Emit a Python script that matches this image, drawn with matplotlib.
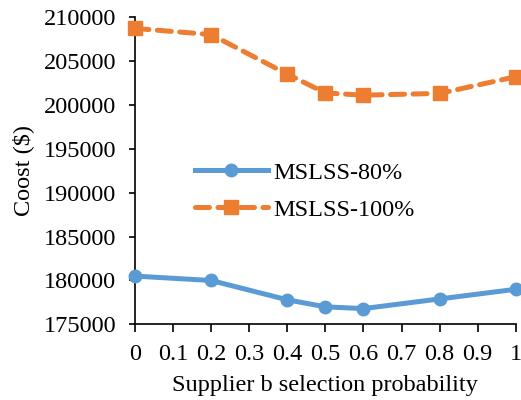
import matplotlib
matplotlib.use("Agg")
import matplotlib.pyplot as plt

x_vals = [0, 0.2, 0.4, 0.5, 0.6, 0.8, 1.0]
mslss_80 = [180500, 180000, 177800, 177000, 176800, 177900, 179000]
mslss_100 = [208700, 208000, 203500, 201350, 201100, 201300, 203200]
x_ticks = [0, 0.1, 0.2, 0.3, 0.4, 0.5, 0.6, 0.7, 0.8, 0.9, 1.0]
x_tick_labels = ["0", "0.1", "0.2", "0.3", "0.4", "0.5", "0.6", "0.7", "0.8", "0.9", "1"]
y_ticks = [175000, 180000, 185000, 190000, 195000, 200000, 205000, 210000]

plt.rcParams['font.family'] = ['Liberation Serif', 'DejaVu Serif']
plt.rcParams['font.size'] = 17.5

fig = plt.figure(figsize=(5.21, 4.0), dpi=100)
ax = fig.add_axes([0.259, 0.189, 0.731, 0.7685])

blue = '#5B9BD5'
orange = '#ED7D31'

ax.plot(x_vals, mslss_80, color=blue, linewidth=3.6, marker='o', markersize=9,
        label='MSLSS-80%', clip_on=False, zorder=3)
ax.plot(x_vals, mslss_100, color=orange, linewidth=3.6, marker='s', markersize=10,
        linestyle=(0, (2.8, 1.7)), dash_capstyle='round',
        label='MSLSS-100%', clip_on=False, zorder=3)

ax.set_xlim(0, 1)
ax.set_ylim(175000, 210000)
ax.set_xticks(x_ticks)
ax.set_xticklabels(x_tick_labels)
ax.set_yticks(y_ticks)
ax.set_yticklabels([str(v) for v in y_ticks])

for s in ['top', 'right']:
    ax.spines[s].set_visible(False)
for s in ['left', 'bottom']:
    ax.spines[s].set_linewidth(1.2)
ax.tick_params(axis='x', direction='out', length=6, width=1.2, pad=8)
ax.tick_params(axis='y', direction='out', length=4.5, width=1.2, pad=9)

ax.set_xlabel('Supplier b selection probability', labelpad=7)
ax.set_ylabel('Coost ($)', labelpad=7)

ax.legend(loc='center left', bbox_to_anchor=(0.157, 0.433), frameon=False,
          borderaxespad=0, borderpad=0, handlelength=3.0, handletextpad=0.25,
          labelspacing=0.6)

fig.savefig('out.png', dpi=100)
